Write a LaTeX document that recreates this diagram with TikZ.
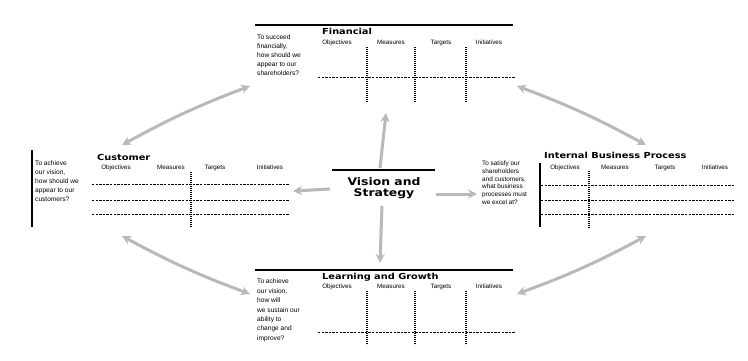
\documentclass[tikz,border=0pt]{standalone}
\usepackage{fontspec}
\setmainfont{Liberation Sans}
\newfontfamily\headfont{DejaVu Sans}
\newfontfamily\widefont[FakeStretch=1.18]{DejaVu Sans}
\usetikzlibrary{arrows.meta}

\begin{document}
\begin{tikzpicture}[x=1pt,y=-1pt,
  rule/.style={line width=1.1pt, black},
  siderule/.style={line width=1.5pt, black},
  cutrule/.style={line width=0.8pt, dash pattern=on 2.4pt off 1.2pt},
  colrule/.style={line width=1.1pt, dash pattern=on 1.1pt off 0.9pt},
  question/.style={anchor=north west, inner sep=0pt, align=left,
    font=\fontsize{6.6}{8.8}\selectfont},
  colhead/.style={inner sep=0pt, anchor=base, font=\fontsize{6.3}{6.5}\selectfont},
  ptitle/.style={anchor=base west, inner sep=0pt,
    font=\widefont\bfseries\fontsize{8.3}{9}\selectfont},
  link/.style={draw=gray!55, line width=3pt, -{Stealth[length=9pt,width=9pt]}},
  duallink/.style={draw=gray!55, line width=3pt,
    {Stealth[length=9pt,width=9pt]}-{Stealth[length=9pt,width=9pt]}},
]
\useasboundingbox[fill=white] (0,0) rectangle (748,360);

% ---------- Vision and Strategy ----------
\draw[rule] (332,170) -- (435,170);
\node[inner sep=0pt, align=center, font=\widefont\bfseries\fontsize{10.5}{10.5}\selectfont]
  (vision) at (384,188) {Vision and\\Strategy};

% ---------- Financial ----------
\draw[rule] (255,25) -- (513,25);
\node[ptitle] (fin-title) at (322,34) {Financial};
\node[question] (fin-q) at (257,35)
  {To succeed\\financially,\\how should we\\appear to our\\shareholders?};
\node[colhead] (fin-h1) at (337,44) {Objectives};
\node[colhead] (fin-h2) at (391,44) {Measures};
\node[colhead] (fin-h3) at (441,44) {Targets};
\node[colhead] (fin-h4) at (489,44) {Initiatives};
\foreach \cx in {367,415,466} \draw[colrule] (\cx,47) -- (\cx,102);
\draw[cutrule] (318,77) -- (515,77);

% ---------- Customer ----------
\draw[siderule] (32,150) -- (32,227);
\node[ptitle] (cus-title) at (97,160) {Customer};
\node[question] (cus-q) at (35,161)
  {To achieve\\our vision,\\how should we\\appear to our\\customers?};
\node[colhead] (cus-h1) at (116,169) {Objectives};
\node[colhead] (cus-h2) at (171,169) {Measures};
\node[colhead] (cus-h3) at (215,169) {Targets};
\node[colhead] (cus-h4) at (270,169) {Initiatives};
\draw[colrule] (191,172) -- (191,227);
\foreach \cy in {184,200,214} \draw[cutrule] (92,\cy) -- (290,\cy);

% ---------- Internal Business Process ----------
\draw[siderule] (540,163) -- (540,227);
\node[ptitle] (ibp-title) at (544,158) {Internal Business Process};
\node[question, font=\fontsize{6.4}{7.7}\selectfont] (ibp-q) at (482,161)
  {To satisfy our\\shareholders\\and customers,\\what business\\processes must\\we excel at?};
\node[colhead] (ibp-h1) at (565,169) {Objectives};
\node[colhead] (ibp-h2) at (615,169) {Measures};
\node[colhead] (ibp-h3) at (665,169) {Targets};
\node[colhead] (ibp-h4) at (715,169) {Initiatives};
\draw[colrule] (589,171) -- (589,228);
\foreach \cy in {185,200,214} \draw[cutrule] (541,\cy) -- (735,\cy);

% ---------- Learning and Growth ----------
\draw[rule] (255,270) -- (513,270);
\node[ptitle] (lg-title) at (322,279) {Learning and Growth};
\node[question, font=\fontsize{6.6}{9.4}\selectfont] (lg-q) at (257,279)
  {To achieve\\our vision,\\how will\\we sustain our\\ability to\\change and\\improve?};
\node[colhead] (lg-h1) at (337,288) {Objectives};
\node[colhead] (lg-h2) at (391,288) {Measures};
\node[colhead] (lg-h3) at (441,288) {Targets};
\node[colhead] (lg-h4) at (489,288) {Initiatives};
\foreach \cx in {367,415,466} \draw[colrule] (\cx,291) -- (\cx,345);
\draw[cutrule] (318,332) -- (515,332);

% ---------- links from the vision ----------
\coordinate (vis-n) at (380,168);
\coordinate (vis-s) at (382,206);
\coordinate (vis-w) at (330,189);
\coordinate (vis-e) at (436,194);
\coordinate (fin-in) at (386,113);
\coordinate (lg-in) at (380,263);
\coordinate (cus-in) at (293,191);
\coordinate (ibp-in) at (477,194);
\draw[link] (vis-n) -- (fin-in);
\draw[link] (vis-s) -- (lg-in);
\draw[link] (vis-w) -- (cus-in);
\draw[link] (vis-e) -- (ibp-in);

% ---------- links between perspectives ----------
\coordinate (cus-ne) at (122,145);
\coordinate (fin-w) at (250,86);
\coordinate (fin-e) at (517,86);
\coordinate (ibp-nw) at (646,145);
\coordinate (cus-se) at (122,236);
\coordinate (lg-w) at (250,294);
\coordinate (lg-e) at (517,294);
\coordinate (ibp-sw) at (646,236);
\draw[duallink] (cus-ne) to[bend left=4] (fin-w);
\draw[duallink] (fin-e) to[bend left=4] (ibp-nw);
\draw[duallink] (cus-se) to[bend right=4] (lg-w);
\draw[duallink] (lg-e) to[bend right=4] (ibp-sw);
\end{tikzpicture}
\end{document}
